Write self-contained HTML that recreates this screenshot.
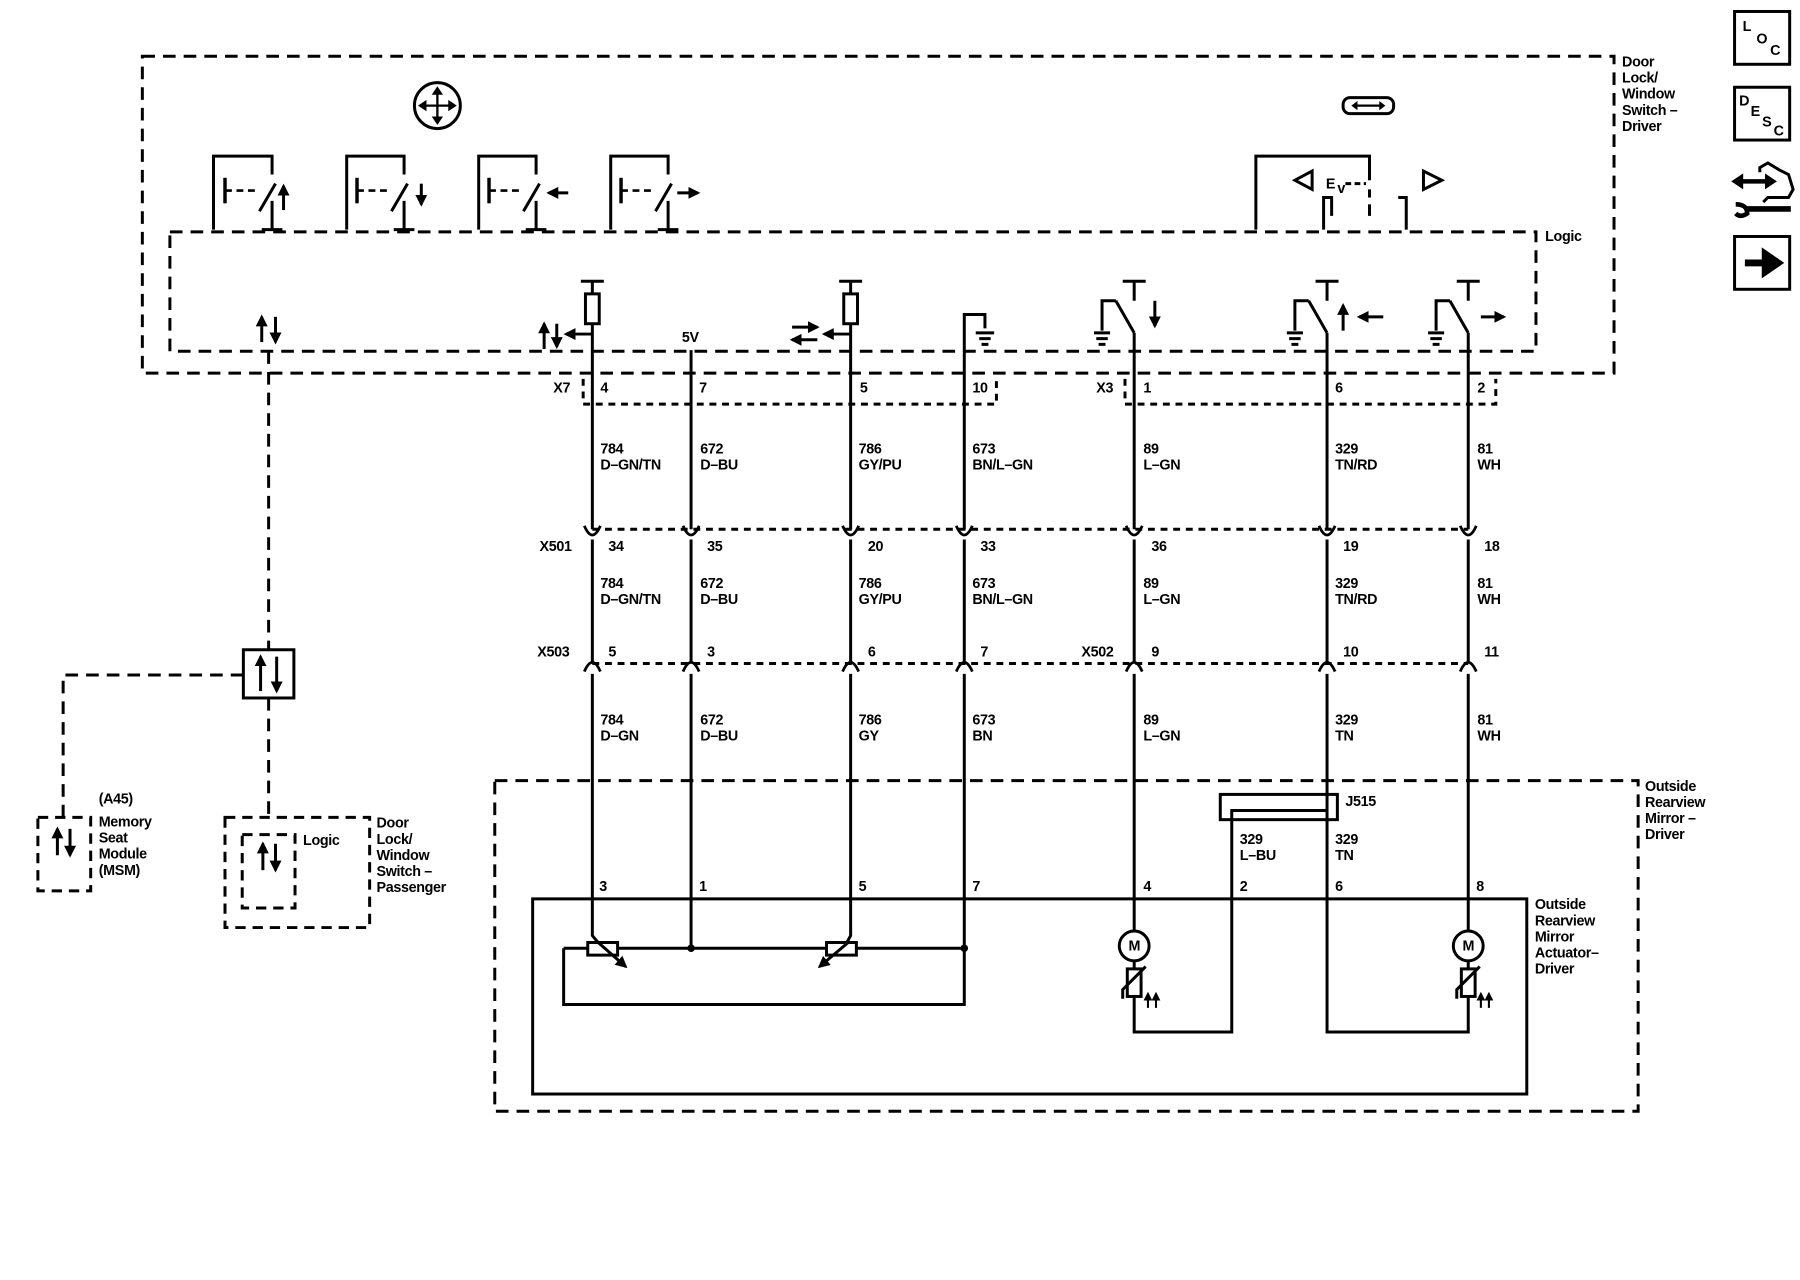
<!DOCTYPE html>
<html><head><meta charset="utf-8"><style>
html,body{margin:0;padding:0;background:#fff}
svg{display:block}
text{font-family:"Liberation Sans",Arial,sans-serif;font-size:12.5px;fill:#000;font-weight:bold;letter-spacing:-0.3px}
</style></head><body>
<svg width="1800" height="1280" viewBox="0 0 1568 1115" preserveAspectRatio="none" xmlns="http://www.w3.org/2000/svg">
<defs>
<marker id="ah" viewBox="0 0 10 10" refX="8" refY="5" markerWidth="4" markerHeight="4" orient="auto"><path d="M0,0L10,5L0,10z" fill="#000"/></marker>
</defs>
<g fill="none" stroke="#000" stroke-width="2.6">
<rect x="124" y="49" width="1282" height="276" stroke-dasharray="11,7"/>
<rect x="148" y="202" width="1190" height="104" stroke-dasharray="11,7"/>
<rect x="431" y="680" width="996" height="288" stroke-dasharray="11,7"/>
<rect x="464" y="783" width="866" height="170"/>
<path d="M508,330V352H868V330M980,330V352H1303V330" stroke-dasharray="6,5"/>
<path d="M516,461H1279M516,578H1279" stroke-dasharray="6,5"/>
<circle cx="381" cy="92" r="20"/>
<path d="M381,80V104M369,92H393" stroke-width="2"/>
<path d="M377,82L381,76L385,82zM377,102L381,108L385,102zM371,88L365,92L371,96zM391,88L397,92L391,96z" fill="#000" stroke-width="1"/>
<rect x="1170" y="85" width="44" height="14" rx="6"/>
<path d="M1180,92H1204" stroke-width="2"/>
<path d="M1182,89L1178,92L1182,95zM1202,89L1206,92L1202,95z" fill="#000" stroke-width="1"/>
<path d="M186,200V136H237V152M226,184L240,160M237,175V200M228,200H246"/>
<path d="M302,200V136H352V152M341,184L355,160M352,175V200M343,200H361"/>
<path d="M417,200V136H467V152M456,184L470,160M467,175V200M458,200H476"/>
<path d="M532,200V136H582V152M571,184L585,160M582,175V200M573,200H591"/>
<path d="M196,155V177M196,166H222M311,155V177M311,166H337M426,155V177M426,166H452M541,155V177M541,166H567" stroke-dasharray="6,4" stroke-width="2.2"/>
<path d="M196,155V177M311,155V177M426,155V177M541,155V177" stroke-width="3"/>
<path d="M247,183V162" marker-end="url(#ah)"/>
<path d="M367,160V178" marker-end="url(#ah)"/>
<path d="M495,168H478" marker-end="url(#ah)"/>
<path d="M590,168H608" marker-end="url(#ah)"/>
<path d="M1094,200V136H1193V157M1193,165V172M1193,178V188M1153,200V172H1160V188M1218,172H1225V200"/>
<path d="M1143,149L1128,157L1143,165zM1240,149L1256,157L1240,165z"/>
<path d="M1172,160H1190" stroke-dasharray="5,3"/>
<path d="M228,298V276" marker-end="url(#ah)"/><path d="M240,276V298" marker-end="url(#ah)"/>
<path d="M474,304V282" marker-end="url(#ah)"/><path d="M485,282V302" marker-end="url(#ah)"/>
<path d="M516,291H493" marker-end="url(#ah)"/>
<path d="M690,285H712" marker-end="url(#ah)"/><path d="M712,296H690" marker-end="url(#ah)"/>
<path d="M741,291H718" marker-end="url(#ah)"/>
<path d="M506,245H526M516,245V256M741,245V256M731,245H751"/>
<rect x="510" y="256" width="12" height="26"/><rect x="735" y="256" width="12" height="26"/>
<path d="M516,282V461M741,282V461M602,305V461M840,461V274H858V286M850,290H866M853,295H863M855,300H861"/>
<path d="M978,245H998M988,245V262M988,290V461M972,262L988,290M960,288V262H972M953,290H967M955,295H965M957,300H963"/>
<path d="M1006,262V284" marker-end="url(#ah)"/>
<path d="M1146,245H1166M1156,245V262M1156,290V461M1140,262L1156,290M1128,288V262H1140M1121,290H1135M1123,295H1133M1125,300H1131"/>
<path d="M1170,288V266" marker-end="url(#ah)"/><path d="M1205,276H1184" marker-end="url(#ah)"/>
<path d="M1269,245H1289M1279,245V262M1279,290V461M1263,262L1279,290M1251,288V262H1263M1244,290H1258M1246,295H1256M1248,300H1254"/>
<path d="M1290,276H1310" marker-end="url(#ah)"/>
<path d="M516,470V578M602,470V578M741,470V578M840,470V578M988,470V578M1156,470V578M1279,470V578"/>
<path d="M516,587V783M602,587V783M741,587V783M840,587V783M988,587V783M1156,587V783M1279,587V783"/>
<g stroke-width="2.4">
<path d="M509,458Q516,474 523,458M595,458Q602,474 609,458M734,458Q741,474 748,458M833,458Q840,474 847,458M981,458Q988,474 995,458M1149,458Q1156,474 1163,458M1272,458Q1279,474 1286,458"/>
<path d="M509,585Q516,569 523,585M595,585Q602,569 609,585M734,585Q741,569 748,585M833,585Q840,569 847,585M981,585Q988,569 995,585M1149,585Q1156,569 1163,585M1272,585Q1279,569 1286,585"/>
</g>
<rect x="1063" y="692" width="102" height="22"/>
<path d="M1073,783V706H1156"/>
<path d="M516,783V815L525,826M741,783V815L735,826M602,783V826M840,783V826M491,826H840M491,826V875H840V826"/>
<rect x="512" y="821" width="26" height="11" fill="#fff"/><rect x="720" y="821" width="26" height="11" fill="#fff"/>
<path d="M520,820L545,842" marker-end="url(#ah)"/><path d="M740,820L714,842" marker-end="url(#ah)"/>
<circle cx="602" cy="826" r="2" fill="#000"/><circle cx="840" cy="826" r="2" fill="#000"/>
<path d="M988,783V811M988,838V844M1279,783V811M1279,838V844"/>
<circle cx="988" cy="824" r="13"/><circle cx="1279" cy="824" r="13"/>
<rect x="982" y="844" width="12" height="24"/><rect x="1273" y="844" width="12" height="24"/>
<path d="M978,870V862L998,842M1269,870V862L1289,842"/>
<path d="M988,868V899H1073V783M1156,783V899H1279V868"/>
<path d="M1000,878V870M1007,878V870M1290,878V870M1297,878V870" stroke-width="1.8"/>
<path d="M997,871L1000,865L1003,871zM1004,871L1007,865L1010,871zM1287,871L1290,865L1293,871zM1294,871L1297,865L1300,871z" fill="#000" stroke-width="1"/>
<path d="M234,306V566M234,608V712M212,588H55V712" stroke-dasharray="11,7"/>
<rect x="212" y="566" width="44" height="42"/>
<path d="M227,602V572" marker-end="url(#ah)"/><path d="M241,572V602" marker-end="url(#ah)"/>
<rect x="33" y="712" width="46" height="64" stroke-dasharray="9,6"/>
<path d="M50,745V722" marker-end="url(#ah)"/><path d="M61,722V745" marker-end="url(#ah)"/>
<rect x="196" y="712" width="126" height="96" stroke-dasharray="9,6"/>
<rect x="211" y="727" width="46" height="64" stroke-dasharray="9,6"/>
<path d="M229,758V735" marker-end="url(#ah)"/><path d="M240,735V758" marker-end="url(#ah)"/>
<rect x="1511" y="10" width="48" height="46"/><rect x="1511" y="76" width="48" height="46"/><rect x="1511" y="206" width="48" height="46"/>
<path d="M1516,158H1540" stroke-width="4"/>
<path d="M1518,152L1509,158L1518,164zM1538,152L1547,158L1538,164z" fill="#000" stroke-width="1"/>
<path d="M1533,150V146L1540,142L1550,148L1558,152L1562,165L1558,172L1540,172L1536,176" stroke-width="2.6"/>
<path d="M1520,182H1560" stroke-width="5"/>
<path d="M1512,178Q1522,178 1522,186Q1516,190 1512,186" stroke-width="4"/>
<path d="M1520,229H1538" stroke-width="6"/><path d="M1536,218L1552,229L1536,240z" fill="#000"/>
</g>
<g>
<text x="1413" y="58">Door</text><text x="1413" y="72">Lock/</text><text x="1413" y="86">Window</text><text x="1413" y="100">Switch –</text><text x="1413" y="114">Driver</text>
<text x="1346" y="210">Logic</text>
<text x="1155" y="164" font-size="15">E</text><text x="1165" y="168" font-size="11">v</text>
<text x="594" y="298">5V</text>
<text x="482" y="342">X7</text><text x="523" y="342">4</text><text x="609" y="342">7</text><text x="749" y="342">5</text><text x="847" y="342">10</text>
<text x="955" y="342">X3</text><text x="996" y="342">1</text><text x="1163" y="342">6</text><text x="1287" y="342">2</text>
<text x="523" y="395">784</text><text x="523" y="409">D–GN/TN</text><text x="610" y="395">672</text><text x="610" y="409">D–BU</text>
<text x="748" y="395">786</text><text x="748" y="409">GY/PU</text><text x="847" y="395">673</text><text x="847" y="409">BN/L–GN</text>
<text x="996" y="395">89</text><text x="996" y="409">L–GN</text><text x="1163" y="395">329</text><text x="1163" y="409">TN/RD</text><text x="1287" y="395">81</text><text x="1287" y="409">WH</text>
<text x="470" y="480">X501</text><text x="530" y="480">34</text><text x="616" y="480">35</text><text x="756" y="480">20</text><text x="854" y="480">33</text>
<text x="1003" y="480">36</text><text x="1170" y="480">19</text><text x="1293" y="480">18</text>
<text x="523" y="512">784</text><text x="523" y="526">D–GN/TN</text><text x="610" y="512">672</text><text x="610" y="526">D–BU</text>
<text x="748" y="512">786</text><text x="748" y="526">GY/PU</text><text x="847" y="512">673</text><text x="847" y="526">BN/L–GN</text>
<text x="996" y="512">89</text><text x="996" y="526">L–GN</text><text x="1163" y="512">329</text><text x="1163" y="526">TN/RD</text><text x="1287" y="512">81</text><text x="1287" y="526">WH</text>
<text x="468" y="572">X503</text><text x="530" y="572">5</text><text x="616" y="572">3</text><text x="756" y="572">6</text><text x="854" y="572">7</text>
<text x="942" y="572">X502</text><text x="1003" y="572">9</text><text x="1170" y="572">10</text><text x="1293" y="572">11</text>
<text x="523" y="631">784</text><text x="523" y="645">D–GN</text><text x="610" y="631">672</text><text x="610" y="645">D–BU</text>
<text x="748" y="631">786</text><text x="748" y="645">GY</text><text x="847" y="631">673</text><text x="847" y="645">BN</text>
<text x="996" y="631">89</text><text x="996" y="645">L–GN</text><text x="1163" y="631">329</text><text x="1163" y="645">TN</text><text x="1287" y="631">81</text><text x="1287" y="645">WH</text>
<text x="1433" y="689">Outside</text><text x="1433" y="703">Rearview</text><text x="1433" y="717">Mirror –</text><text x="1433" y="731">Driver</text>
<text x="1172" y="702">J515</text>
<text x="1080" y="735">329</text><text x="1080" y="749">L–BU</text><text x="1163" y="735">329</text><text x="1163" y="749">TN</text>
<text x="522" y="776">3</text><text x="609" y="776">1</text><text x="748" y="776">5</text><text x="847" y="776">7</text><text x="996" y="776">4</text><text x="1080" y="776">2</text><text x="1163" y="776">6</text><text x="1286" y="776">8</text>
<text x="1337" y="792">Outside</text><text x="1337" y="806">Rearview</text><text x="1337" y="820">Mirror</text><text x="1337" y="834">Actuator–</text><text x="1337" y="848">Driver</text>
<text x="983" y="828" font-size="11">M</text><text x="1274" y="828" font-size="11">M</text>
<text x="86" y="700">(A45)</text><text x="86" y="720">Memory</text><text x="86" y="734">Seat</text><text x="86" y="748">Module</text><text x="86" y="762">(MSM)</text>
<text x="264" y="736">Logic</text>
<text x="328" y="721">Door</text><text x="328" y="735">Lock/</text><text x="328" y="749">Window</text><text x="328" y="763">Switch –</text><text x="328" y="777">Passenger</text>
<text x="1518" y="27" font-size="13">L</text><text x="1530" y="38" font-size="13">O</text><text x="1542" y="48" font-size="13">C</text>
<text x="1515" y="92" font-size="13">D</text><text x="1525" y="101" font-size="13">E</text><text x="1535" y="110" font-size="13">S</text><text x="1545" y="118" font-size="13">C</text>
</g>
</svg>
</body></html>
